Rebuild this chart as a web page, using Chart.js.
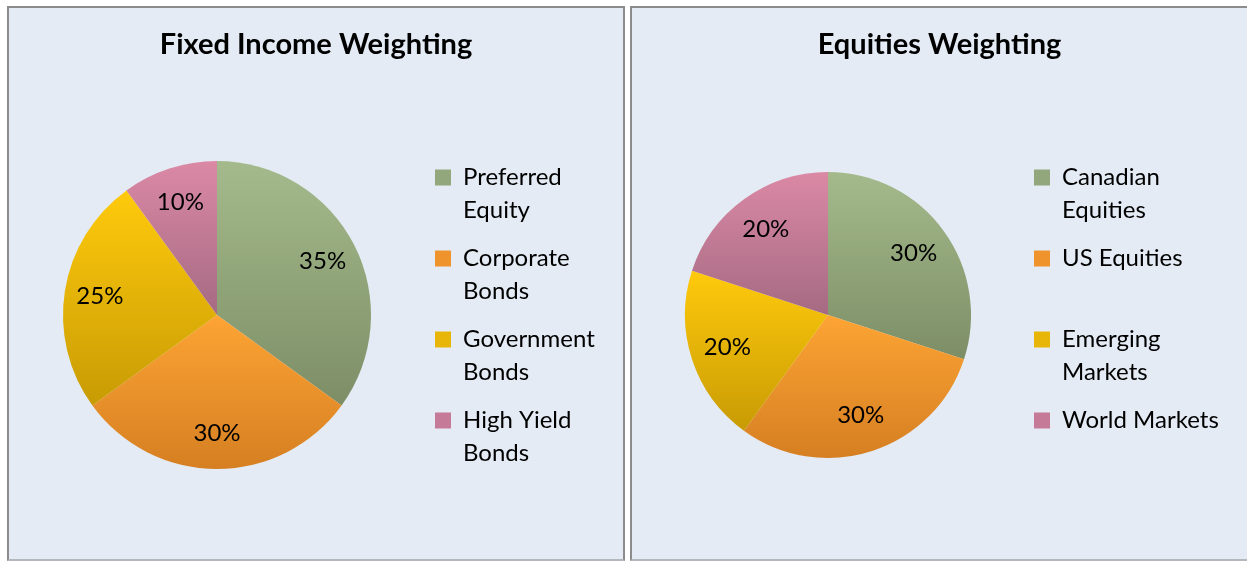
<!DOCTYPE html>
<html>
<head>
<meta charset="utf-8">
<script src="https://cdn.jsdelivr.net/npm/chart.js@4"></script>
<style>
  body { margin:0; background:#fff; width:1247px; height:561px; overflow:hidden; position:relative; font-family:Lato, sans-serif; }
  .panel { position:absolute; top:6px; height:551px; background:#e4ebf4; border:2px solid #8c8c8c; border-bottom-color:#b4b8bd; }
  #p1 { left:7px; width:614px; }
  #p2 { left:630px; width:620px; }
  canvas { position:absolute; top:0; left:0; }
</style>
</head>
<body>
<div class="panel" id="p1"><canvas id="fixedPie" width="614" height="551"></canvas></div>
<div class="panel" id="p2"><canvas id="equityPie" width="615" height="551"></canvas></div>
<script>
const fixedTitle = 'Fixed Income Weighting';
const fixedLabels = [['Preferred', 'Equity'], ['Corporate', 'Bonds'], ['Government', 'Bonds'], ['High Yield', 'Bonds']];
const fixedValues = [35, 30, 25, 10];

const equityTitle = 'Equities Weighting';
const equityLabels = [['Canadian', 'Equities'], ['US Equities', ''], ['Emerging', 'Markets'], ['World Markets', '']];
const equityValues = [30, 30, 20, 20];

// top / bottom of each slice's vertical gradient, plus a flat tone for the legend box
const topColors = ['#a4ba8c', '#fda434', '#ffca0c', '#db89a5'];
const bottomColors = ['#7d8e66', '#d67f22', '#c89b04', '#a56a82'];
const boxColors = ['#93a77c', '#ef932c', '#e8b608', '#c57b97'];

function sliceFill(ctx) {
  const chart = ctx.chart, area = chart.chartArea;
  const i = ctx.dataIndex;
  if (!area || i === undefined) return topColors[i] || '#ccc';
  const vals = chart.data.datasets[0].data;
  const total = vals.reduce((a, b) => a + b, 0);
  let before = 0;
  for (let k = 0; k < i; k++) before += vals[k];
  const a0 = before / total * 2 * Math.PI, a1 = (before + vals[i]) / total * 2 * Math.PI;
  const r = chart.data.datasets[0].radius;
  const cy = (area.top + area.bottom) / 2;
  const ys = [cy, cy - r * Math.cos(a0), cy - r * Math.cos(a1)];
  if (a0 <= 0) ys.push(cy - r);
  if (a0 <= Math.PI && a1 >= Math.PI) ys.push(cy + r);
  const y0 = Math.min(...ys), y1 = Math.max(...ys);
  const g = chart.ctx.createLinearGradient(0, y0, 0, y1);
  g.addColorStop(0, topColors[i]);
  g.addColorStop(1, bottomColors[i]);
  return g;
}

const panelTitle = {
  id: 'panelTitle',
  // legend gets a fixed width so the pie and the legend sit where they should
  beforeLayout(chart, args, opts) {
    const lg = chart.legend;
    if (lg && !lg._fixed) {
      const fit = lg.fit;
      lg.fit = function () { fit.call(this); this.width = opts.legendWidth; };
      lg._fixed = true;
    }
  },
  afterDraw(chart, args, opts) {
    const c = chart.ctx;
    c.save();
    c.font = 'bold 29px Lato';
    c.fillStyle = '#000';
    c.textAlign = 'center';
    c.textBaseline = 'middle';
    c.fillText(opts.text, chart.width / 2, 37);
    c.restore();
  }
};

const sliceLabels = {
  id: 'sliceLabels',
  afterDatasetsDraw(chart, args, opts) {
    const c = chart.ctx;
    const ds = chart.data.datasets[0];
    c.save();
    c.font = '24px Lato';
    c.fillStyle = '#000';
    c.textAlign = 'center';
    c.textBaseline = 'middle';
    chart.getDatasetMeta(0).data.forEach((arc, i) => {
      const mid = (arc.startAngle + arc.endAngle) / 2;
      const d = arc.outerRadius * opts.dist;
      c.fillText(ds.data[i] + '%', arc.x + Math.cos(mid) * d, arc.y + Math.sin(mid) * d);
    });
    c.restore();
  }
};

function makePie(id, title, labels, values, radius, pad, legendWidth, dist) {
  new Chart(document.getElementById(id), {
    type: 'pie',
    data: {
      labels: labels,
      datasets: [{
        data: values,
        radius: radius,
        backgroundColor: sliceFill,
        borderWidth: 0
      }]
    },
    options: {
      responsive: false,
      animation: false,
      layout: { padding: pad },
      plugins: {
        panelTitle: { text: title, legendWidth: legendWidth },
        sliceLabels: { dist: dist },
        tooltip: { enabled: false },
        legend: {
          position: 'right',
          title: { display: true, text: '', font: { size: 1, lineHeight: 1 }, padding: { top: 8, bottom: 0 } },
          labels: {
            boxWidth: 16,
            boxHeight: 16,
            padding: 16,
            color: '#000',
            font: { family: 'Lato', size: 24, lineHeight: 1.354 },
            generateLabels: chart => chart.data.labels.map((t, i) => ({
              text: t, fillStyle: boxColors[i], strokeStyle: boxColors[i], fontColor: '#000',
              lineWidth: 0, hidden: false, index: i
            }))
          }
        }
      }
    },
    plugins: [panelTitle, sliceLabels]
  });
}

makePie('fixedPie', fixedTitle, fixedLabels, fixedValues, 154, { top: 63, bottom: 0, left: 6, right: 0 }, 204, 0.77);
makePie('equityPie', equityTitle, equityLabels, equityValues, 143, { top: 63, bottom: 0, left: 6, right: 0 }, 229, 0.74);
</script>
</body>
</html>
